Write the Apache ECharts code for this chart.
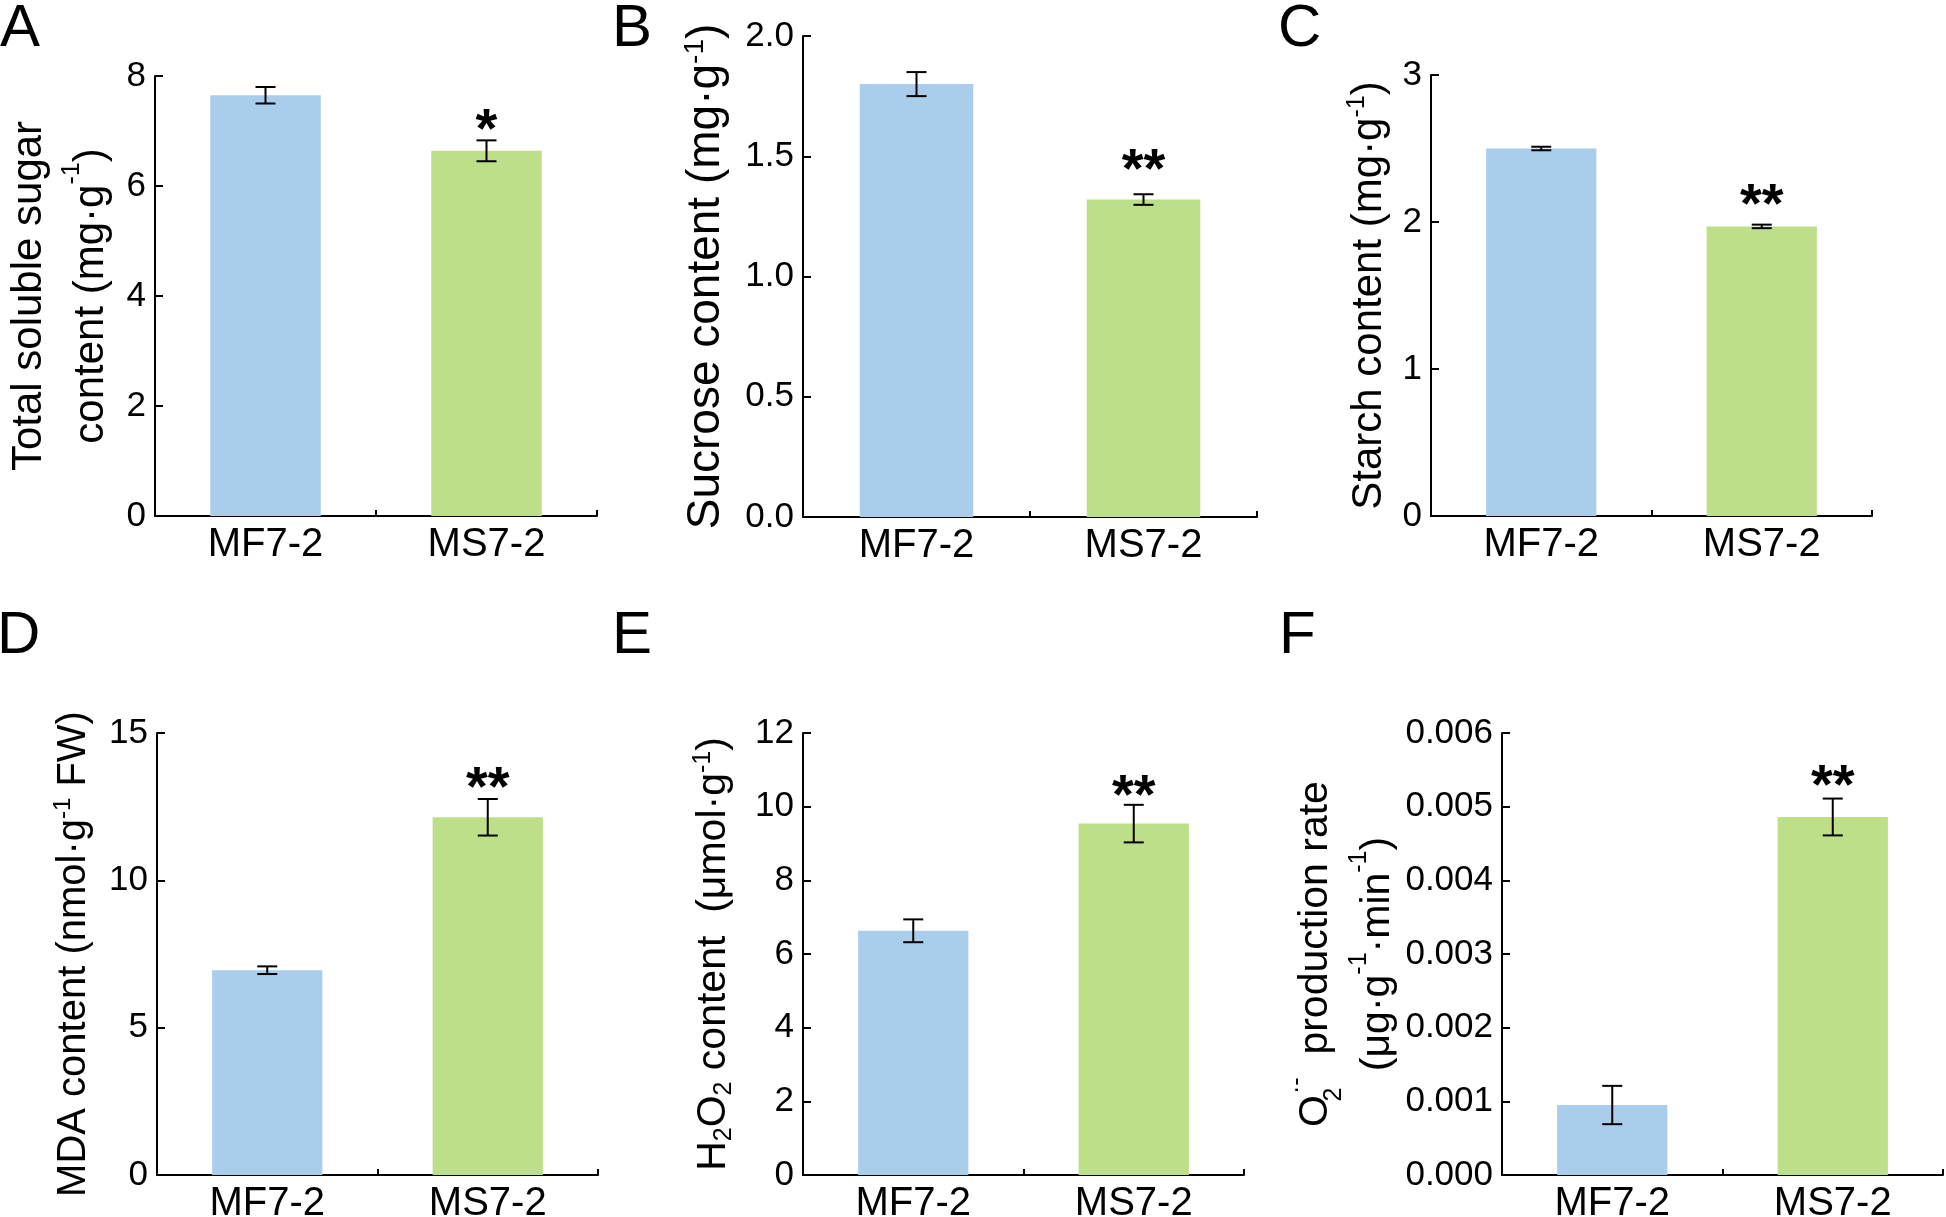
<!DOCTYPE html>
<html><head><meta charset="utf-8">
<script src="https://cdn.jsdelivr.net/npm/echarts@6/dist/echarts.min.js"></script>
<style>html,body{margin:0;padding:0;background:#fff}#c{width:1946px;height:1217px}</style>
</head><body><div id="c"></div>
<script>
// ---------------- data ----------------
const categories = ['MF7-2', 'MS7-2'];

const sugarMean = [7.65, 6.64];
const sugarErr  = [0.15, 0.19];
const sugarSig  = ['', '*'];

const sucroseMean = [1.80, 1.32];
const sucroseErr  = [0.05, 0.022];
const sucroseSig  = ['', '**'];

const starchMean = [2.50, 1.97];
const starchErr  = [0.012, 0.012];
const starchSig  = ['', '**'];

const mdaMean = [6.95, 12.14];
const mdaErr  = [0.13, 0.62];
const mdaSig  = ['', '**'];

const h2o2Mean = [6.63, 9.54];
const h2o2Err  = [0.31, 0.51];
const h2o2Sig  = ['', '**'];

const o2Mean = [0.00095, 0.00486];
const o2Err  = [0.00026, 0.00025];
const o2Sig  = ['', '**'];

const panelLetters = ['A', 'B', 'C', 'D', 'E', 'F'];
const yMax      = [8, 2.0, 3, 15, 12, 0.006];
const yInterval = [2, 0.5, 1, 5, 2, 0.001];
const yDecimals = [0, 1, 0, 0, 0, 3];

// ---------------- styles / layout ----------------
const FONT = "'Liberation Sans', Arial, Helvetica, sans-serif";
const barColors = ['#abcdec', '#bddf89'];

const layout = [
  {left:155, top:76,  width:442, height:440, nameGap:33, lh:62, fs:42, starOff:9},
  {left:803, top:36,  width:454, height:481, nameGap:72, lh:50, fs:46, starOff:23},
  {left:1431,top:75,  width:441, height:441, nameGap:38, lh:48, fs:42, starOff:18},
  {left:157, top:733, width:441, height:442, nameGap:60, lh:46, fs:40, starOff:9},
  {left:803, top:733, width:441, height:442, nameGap:66, lh:46, fs:41, starOff:7},
  {left:1502,top:733, width:441, height:442, nameGap:93, lh:62, fs:41, starOff:11}
];
const letterPos = [[0,29],[612,29],[1278,29],[-3,636],[612,636],[1279,636]];

const names = [
  '{n|Total soluble sugar}\n{n|content (mg·g}{sup|-1}{n|)}',
  '{n|Sucrose content (mg·g}{sup|-1}{n|)}',
  '{n|Starch content (mg·g}{sup|-1}{n|)}',
  '{n|MDA content (nmol·g}{sup|-1}{n| FW)}',
  '{n|H}{sub|2}{n|O}{sub|2}{n| content  (μmol·g}{sup|-1}{n|)}',
  '{n|O}{subz|2}{sup|·-}{n|  production rate}\n{n|(μg·g}{sup|-1}{n|·min}{sup|-1}{n|)}'
];

const means = [sugarMean, sucroseMean, starchMean, mdaMean, h2o2Mean, o2Mean];
const errs  = [sugarErr, sucroseErr, starchErr, mdaErr, h2o2Err, o2Err];
const sigs  = [sugarSig, sucroseSig, starchSig, mdaSig, h2o2Sig, o2Sig];

const grid = [], xAxis = [], yAxis = [], series = [], graphic = [];

layout.forEach((L, p) => {
  grid.push({left:L.left, top:L.top, width:L.width, height:L.height,
             containLabel:false, outerBoundsMode:'none'});
  xAxis.push({
    type:'category', gridIndex:p, data:categories,
    axisLine:{show:true, lineStyle:{color:'#000', width:2}},
    axisTick:{show:true, inside:true, length:6, lineStyle:{color:'#000', width:2}},
    axisLabel:{color:'#000', fontSize:40, fontFamily:FONT, margin:9},
    splitLine:{show:false}
  });
  const dec = yDecimals[p];
  const supSize = Math.round(L.fs * 0.6);
  yAxis.push({
    type:'value', gridIndex:p, min:0, max:yMax[p], interval:yInterval[p],
    axisLine:{show:true, lineStyle:{color:'#000', width:2}},
    axisTick:{show:true, inside:true, length:8, lineStyle:{color:'#000', width:2}},
    axisLabel:{color:'#000', fontSize:35, fontFamily:FONT, margin:9,
               formatter: v => Number(v).toFixed(dec)},
    splitLine:{show:false},
    name:names[p], nameLocation:'middle', nameRotate:90, nameGap:L.nameGap,
    nameMoveOverlap:false,
    nameTextStyle:{
      color:'#000', fontFamily:FONT, fontSize:L.fs,
      rich:{
        n:{fontSize:L.fs, fontFamily:FONT, color:'#000', lineHeight:L.lh},
        sup:{fontSize:supSize, fontFamily:FONT, color:'#000', verticalAlign:'top', lineHeight:L.lh-18},
        sub:{fontSize:supSize, fontFamily:FONT, color:'#000', verticalAlign:'bottom', lineHeight:L.lh-23},
        subz:{fontSize:supSize, fontFamily:FONT, color:'#000', verticalAlign:'bottom', lineHeight:L.lh-23, width:1, align:'left'}
      }
    }
  });
  series.push({
    type:'bar', xAxisIndex:p, yAxisIndex:p, barWidth:'50%',
    data: means[p].map((v, i) => ({value:v, itemStyle:{color:barColors[i]}})),
    silent:true, animation:false
  });
  const sig = sigs[p];
  series.push({
    type:'custom', xAxisIndex:p, yAxisIndex:p, z:10, animation:false, silent:true,
    data: means[p].map((v, i) => [i, v, errs[p][i]]),
    renderItem: (params, api) => {
      const i = api.value(0), m = api.value(1), e = api.value(2);
      const top = api.coord([i, m + e]);
      const bot = api.coord([i, m - e]);
      const cap = 10;
      const ls = {stroke:'#000', lineWidth:2};
      const children = [
        {type:'line', shape:{x1:top[0], y1:top[1], x2:bot[0], y2:bot[1]}, style:ls},
        {type:'line', shape:{x1:top[0]-cap, y1:top[1], x2:top[0]+cap, y2:top[1]}, style:ls},
        {type:'line', shape:{x1:bot[0]-cap, y1:bot[1], x2:bot[0]+cap, y2:bot[1]}, style:ls}
      ];
      if (sig[i]) {
        children.push({type:'text', x:top[0], y:top[1] - L.starOff,
          style:{text:sig[i], fill:'#000', font:'bold 56px ' + FONT, align:'center', verticalAlign:'middle'}});
      }
      return {type:'group', children};
    }
  });
  graphic.push({type:'text', x:letterPos[p][0], y:letterPos[p][1],
    style:{text:panelLetters[p], fill:'#000', font:'60px ' + FONT, textAlign:'left', textVerticalAlign:'middle'}});
});

const chart = echarts.init(document.getElementById('c'), null, {renderer:'canvas'});
chart.setOption({animation:false, backgroundColor:'#fff', grid, xAxis, yAxis, series, graphic});
</script></body></html>
